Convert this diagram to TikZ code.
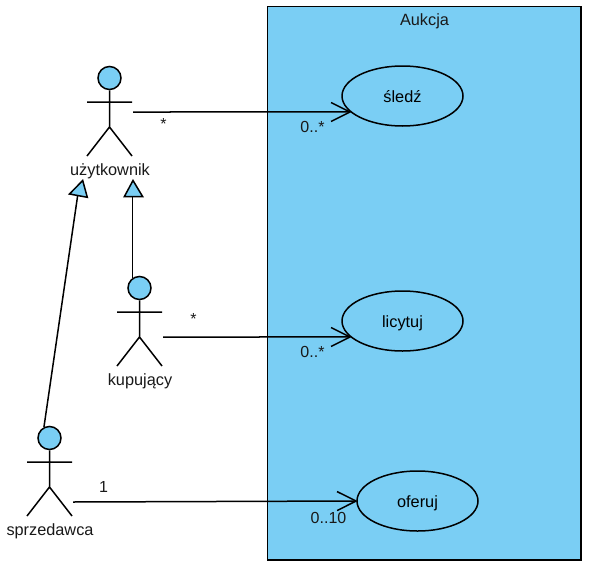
\documentclass[tikz,border=0pt]{standalone}
\usepackage{fontspec}
\setmainfont{Liberation Sans}
\usetikzlibrary{arrows.meta,shapes.geometric}
\definecolor{ublue}{HTML}{7ACEF4}
\tikzset{
  x=1pt,y=-1pt,
  line/.style={line width=1.5pt,black},
  lab/.style={inner sep=0pt,font=\fontsize{16.3}{18}\selectfont,text=black!90},
  small/.style={inner sep=0pt,font=\fontsize{16}{17}\selectfont,text=black!90},
  usecase/.style={ellipse,draw,line,fill=ublue,minimum width=121pt,minimum height=60pt,inner sep=0pt,font=\fontsize{16.3}{18}\selectfont},
  headc/.style={circle,draw,line,fill=ublue,minimum size=23pt,inner sep=0pt},
  actorbox/.style={minimum width=45pt,minimum height=90pt,inner sep=0pt},
  assoc/.style={line,shorten >=-1.5pt,-{Straight Barb[length=19pt,width=19pt,line width=1.5pt]}},
  gentri/.style={line,fill=ublue,line join=miter}
}
\newcommand{\actor}[4]{% name, head x, head y, label
  \node[headc] (#1h) at (#2,#3) {};
  \node[actorbox] (#1) at (#2,#3+34) {};
  \draw[line] (#1h.south) -- (#2,#3+49) -- (#2-22.5,#3+78) (#2,#3+49) -- (#2+22.5,#3+78)
    (#2-22.5,#3+24) -- (#2+22.5,#3+24);
  \node[lab,anchor=base] (#1l) at (#2+0.5,#3+97) {#4};
}
\begin{document}
\begin{tikzpicture}
\useasboundingbox (0,0) rectangle (597,570);
\node[draw,line,fill=ublue,minimum width=313.5pt,minimum height=553.5pt,inner sep=0pt] (frame) at (424.25,283.25) {};
\node[lab,anchor=base] (title) at (424.5,25) {Aukcja};
\node[usecase] (sledz) at (402.5,96) {\raisebox{-6.3pt}[0pt][0pt]{śledź}};
\node[usecase] (licytuj) at (402.5,321) {\raisebox{-6.3pt}[0pt][0pt]{licytuj}};
\node[usecase] (oferuj) at (417.5,501) {\raisebox{-6.3pt}[0pt][0pt]{oferuj}};
\actor{uzyt}{109.5}{78}{użytkownik}
\actor{kup}{139.5}{288}{kupujący}
\actor{sprz}{49.5}{438}{sprzedawca}
\coordinate (t1) at (82.7,180.5);
\coordinate (t1a) at (69.5,194);
\coordinate (t1b) at (87.3,197.3);
\coordinate (t1m) at (77.6,196);
\coordinate (t2) at (133,180.5);
\coordinate (t2a) at (124.3,196.7);
\coordinate (t2b) at (142.7,196.7);
\draw[line] (kuph.124.4) -- (kuph.124.4 |- t2b);
\draw[line] (sprzh.117) -- (t1m);
\draw[gentri] (t1) -- (t1a) -- (t1b) -- cycle;
\draw[gentri] (t2) -- (t2a) -- (t2b) -- cycle;
\draw[assoc] ([xshift=1pt]uzyt.east) -- (sledz.197.7);
\draw[assoc] ([xshift=1pt,yshift=-15pt]kup.east) -- (licytuj.197.7);
\draw[assoc] ([xshift=1pt,yshift=-30pt]sprz.east) -- (oferuj.180.9);
\node[small,anchor=base] (m1) at (163.5,129) {*};
\node[small,anchor=base] (m2) at (312.5,132) {0..*};
\node[small,anchor=base] (m3) at (193.5,324) {*};
\node[small,anchor=base] (m4) at (312.5,357) {0..*};
\node[small,anchor=base] (m5) at (103.5,492) {1};
\node[small,anchor=base] (m6) at (328.5,523) {0..10};
\end{tikzpicture}
\end{document}
